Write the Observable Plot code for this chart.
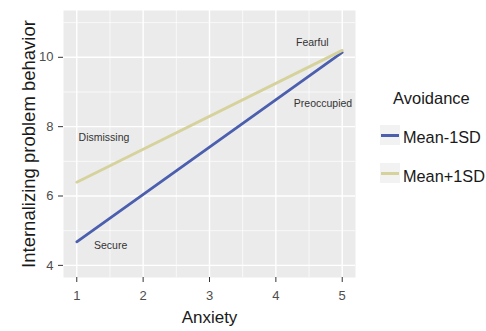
<!DOCTYPE html>
<html><head><meta charset="utf-8">
<script src="https://cdn.jsdelivr.net/npm/d3@7"></script>
<script src="https://cdn.jsdelivr.net/npm/@observablehq/plot@0.6"></script>
<style>
body{margin:0;background:#fff;font-family:"Liberation Sans",Arial,sans-serif;}
#wrap{position:relative;width:486px;height:331px;}
.leg{position:absolute;font-family:"Liberation Sans",Arial,sans-serif;color:#1a1a1a;line-height:1;white-space:nowrap;}
.key{position:absolute;width:20px;height:20px;background:#f2f2f2;}
.key span{position:absolute;left:1px;right:1px;top:8.5px;height:3px;}
</style>
</head><body>
<div id="wrap"></div>
<script>
const anxiety = [1, 5];
const meanMinus1SD = [4.68, 10.14];
const meanPlus1SD = [6.40, 10.20];
const seriesNames = ["Mean-1SD", "Mean+1SD"];
const seriesColors = ["#4b5fae", "#d5d29c"];
const xTicks = [1, 2, 3, 4, 5];
const yTicks = [4, 6, 8, 10];
const xMinor = [1.5, 2.5, 3.5, 4.5];
const yMinor = [5, 7, 9, 11];
const noteText = ["Fearful", "Preoccupied", "Dismissing", "Secure"];
const noteX = [4.55, 4.71, 1.41, 1.51];
const noteY = [10.42, 8.66, 7.68, 4.58];

const rows = [];
seriesNames.forEach((s, i) => {
  const vals = i === 0 ? meanMinus1SD : meanPlus1SD;
  anxiety.forEach((a, j) => rows.push({series: s, x: a, y: vals[j]}));
});
const notes = noteText.map((t, i) => ({t, x: noteX[i], y: noteY[i]}));

const chart = Plot.plot({
  width: 486, height: 331,
  marginLeft: 63, marginRight: 131, marginTop: 10, marginBottom: 54,
  style: {fontFamily: "Liberation Sans, Arial, sans-serif", background: "white"},
  x: {domain: [0.8, 5.2]},
  y: {domain: [3.65, 11.35]},
  color: {domain: seriesNames, range: seriesColors},
  marks: [
    Plot.frame({fill: "#ebebeb", stroke: null}),
    Plot.gridX(xMinor, {stroke: "white", strokeOpacity: 1, strokeWidth: 0.7}),
    Plot.gridY(yMinor, {stroke: "white", strokeOpacity: 1, strokeWidth: 0.7}),
    Plot.gridX(xTicks, {stroke: "white", strokeOpacity: 1, strokeWidth: 1.4}),
    Plot.gridY(yTicks, {stroke: "white", strokeOpacity: 1, strokeWidth: 1.4}),
    Plot.axisX(xTicks, {tickSize: 5, tickPadding: 8, fontSize: 13, color: "#4d4d4d", stroke: "#333", label: null}),
    Plot.axisY(yTicks, {tickSize: 5, tickPadding: 5, fontSize: 13, color: "#4d4d4d", stroke: "#333", label: null}),
    Plot.line(rows, {x: "x", y: "y", z: "series", stroke: "series", strokeWidth: 2.8}),
    Plot.text(notes, {x: "x", y: "y", text: "t", fontSize: 10.5, fill: "#333"}),
    Plot.text(["Anxiety"], {frameAnchor: "bottom", dy: 45, fontSize: 17, fill: "#1a1a1a"}),
    Plot.text(["Internalizing problem behavior"], {frameAnchor: "left", textAnchor: "middle", dx: -34, rotate: -90, fontSize: 18.5, fill: "#1a1a1a"})
  ]
});
const wrap = document.getElementById("wrap");
wrap.appendChild(chart);

function addDiv(html, style, cls) {
  const d = document.createElement("div");
  d.className = cls || "leg";
  d.innerHTML = html;
  Object.assign(d.style, style);
  wrap.appendChild(d);
  return d;
}
addDiv("Avoidance", {left: "393px", top: "90px", fontSize: "16.5px"});
const keyTops = [125, 163];
const textTops = [129, 168];
seriesNames.forEach((s, i) => {
  const k = addDiv("", {left: "380px", top: keyTops[i] + "px"}, "key");
  const sp = document.createElement("span");
  sp.style.background = seriesColors[i];
  k.appendChild(sp);
  addDiv(s, {left: "403px", top: textTops[i] + "px", fontSize: "16.3px"});
});
</script>
</body></html>
